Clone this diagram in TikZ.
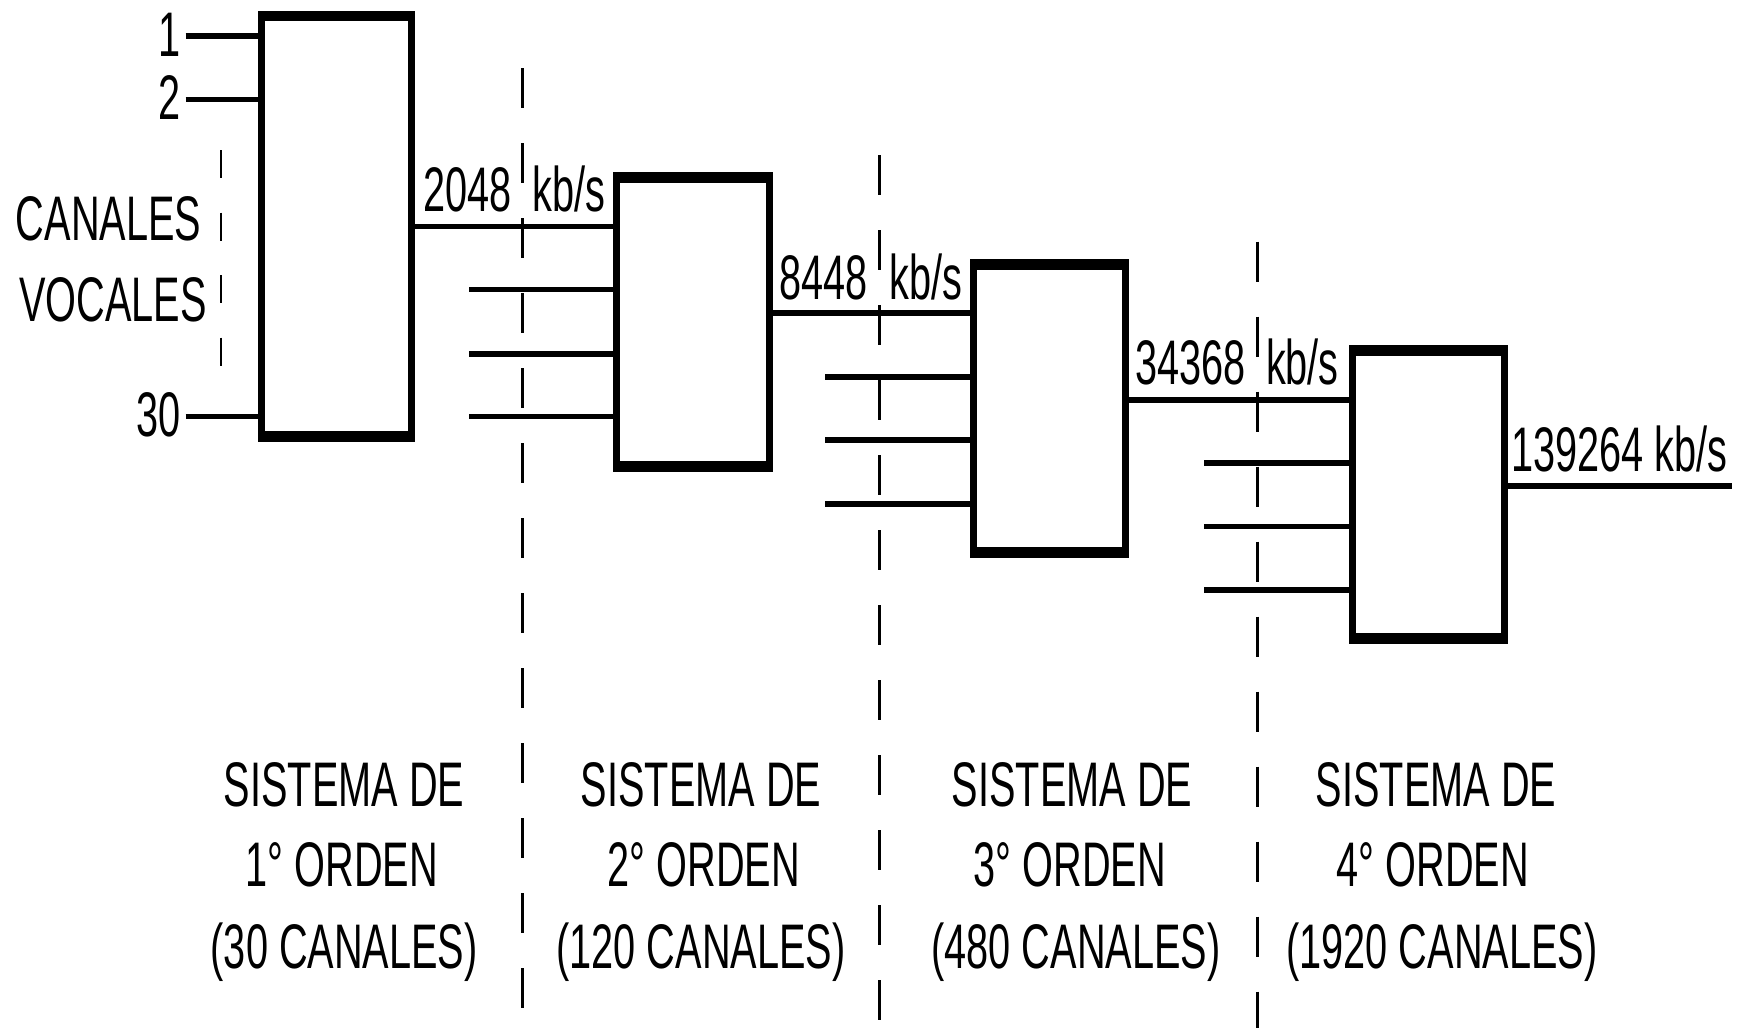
\documentclass[tikz,border=0pt]{standalone}
\usepackage{fontspec}
\setmainfont[FakeStretch=0.63]{Liberation Sans}
\begin{document}
\begin{tikzpicture}[x=1pt,y=-1pt,
  mux/.style 2 args={draw, line width=7pt, inner sep=0pt, minimum width=#1, minimum height=#2,
    path picture={
      \fill ([yshift=1pt]path picture bounding box.north west) rectangle ([yshift=-7pt]path picture bounding box.north east);
      \fill ([yshift=-1pt]path picture bounding box.south west) rectangle ([yshift=7.5pt]path picture bounding box.south east);}},
  sig/.style={line width=5.5pt},
  dline/.style={line width=3pt, dash pattern=on 40pt off 35pt},
  sdline/.style={line width=2.7pt, dash pattern=on 28pt off 34.5pt},
  lbl/.style={inner sep=0pt, outer sep=0pt, font=\fontsize{63}{81.5}\selectfont}]
\useasboundingbox (0,0) rectangle (1739,1028);

% boxes
\node[mux={149.7pt}{424pt}] (b1) at (336.65,226.2) {};
\node[mux={152.4pt}{292.4pt}] (b2) at (693,322) {};
\node[mux={152.3pt}{292pt}] (b3) at (1049.65,408.8) {};
\node[mux={152.3pt}{292pt}] (b4) at (1428.65,494.5) {};

% input coordinates
\coordinate (a1) at (185.7,35.8);
\coordinate (a2) at (185.7,99.5);
\coordinate (a3) at (185.7,416.7);
\coordinate (c1) at (469,289.7);
\coordinate (c2) at (469,353.8);
\coordinate (c3) at (469,416.7);
\coordinate (d1) at (825,377.2);
\coordinate (d2) at (825,440);
\coordinate (d3) at (825,503.8);
\coordinate (e1) at (1204,463);
\coordinate (e2) at (1204,526.7);
\coordinate (e3) at (1204,590);
\coordinate (o1) at (500,226.7);
\coordinate (o2) at (850,312.8);
\coordinate (o3) at (1200,400);
\coordinate (o4) at (1731.7,485.8);

\foreach \p in {a1,a2,a3} \draw[sig] (\p) -- (\p -| b1.west);
\foreach \p in {c1,c2,c3} \draw[sig] (\p) -- (\p -| b2.west);
\foreach \p in {d1,d2,d3} \draw[sig] (\p) -- (\p -| b3.west);
\foreach \p in {e1,e2,e3} \draw[sig] (\p) -- (\p -| b4.west);
\draw[sig] (o1 -| b1.east) -- (o1 -| b2.west);
\draw[sig] (o2 -| b2.east) -- (o2 -| b3.west);
\draw[sig] (o3 -| b3.east) -- (o3 -| b4.west);
\draw[sig] (o4 -| b4.east) -- (o4);

% dashed separators
\coordinate (s1t) at (522.3,68.3);  \coordinate (s1b) at (522.3,1010);
\coordinate (s2t) at (879,155);     \coordinate (s2b) at (879,1020);
\coordinate (s3t) at (1257.7,241.7);\coordinate (s3b) at (1257.7,1028);
\coordinate (s0t) at (221,150);     \coordinate (s0b) at (221,370);
\draw[dline] (s1t) -- (s1b);
\draw[dline] (s2t) -- (s2b);
\draw[dline] (s3t) -- (s3b);
\draw[sdline] (s0t) -- (s0b);

% input labels
\node[lbl, anchor=base east] (t1) at (181,56.7) {1};
\node[lbl, anchor=base east] (t2) at (181,119) {2};
\node[lbl, anchor=base east] (t30) at (181,436.7) {30};
\node[lbl, anchor=base west] (tcan) at (16,240) {CANALES};
\node[lbl, anchor=base west] (tvoc) at (19,321.7) {VOCALES};

% rate labels
\node[lbl, anchor=base west] (r1) at (423,211.7) {2048\hspace{21.5pt}kb/s};
\node[lbl, anchor=base west] (r2) at (779.5,299) {8448\hspace{21.5pt}kb/s};
\node[lbl, anchor=base west] (r3) at (1135.7,384.5) {34368\hspace{20pt}kb/s};
\node[lbl, anchor=base west] (r4) at (1511,471.7) {139264 kb/s};

% system labels
\node[lbl, anchor=base] (g1a) at (344,806.7) {SISTEMA DE};
\node[lbl, anchor=base] (g1b) at (341.7,886.7) {1° ORDEN};
\node[lbl, anchor=base] (g1c) at (344.2,968.3) {(30 CANALES)};
\node[lbl, anchor=base] (g2a) at (701,806.7) {SISTEMA DE};
\node[lbl, anchor=base] (g2b) at (704,886.7) {2° ORDEN};
\node[lbl, anchor=base] (g2c) at (701,968.3) {(120 CANALES)};
\node[lbl, anchor=base] (g3a) at (1072,806.7) {SISTEMA DE};
\node[lbl, anchor=base] (g3b) at (1070,886.7) {3° ORDEN};
\node[lbl, anchor=base] (g3c) at (1076,968.3) {(480 CANALES)};
\node[lbl, anchor=base] (g4a) at (1436,806.7) {SISTEMA DE};
\node[lbl, anchor=base] (g4b) at (1433,886.7) {4° ORDEN};
\node[lbl, anchor=base] (g4c) at (1442,968.3) {(1920 CANALES)};
\end{tikzpicture}
\end{document}
